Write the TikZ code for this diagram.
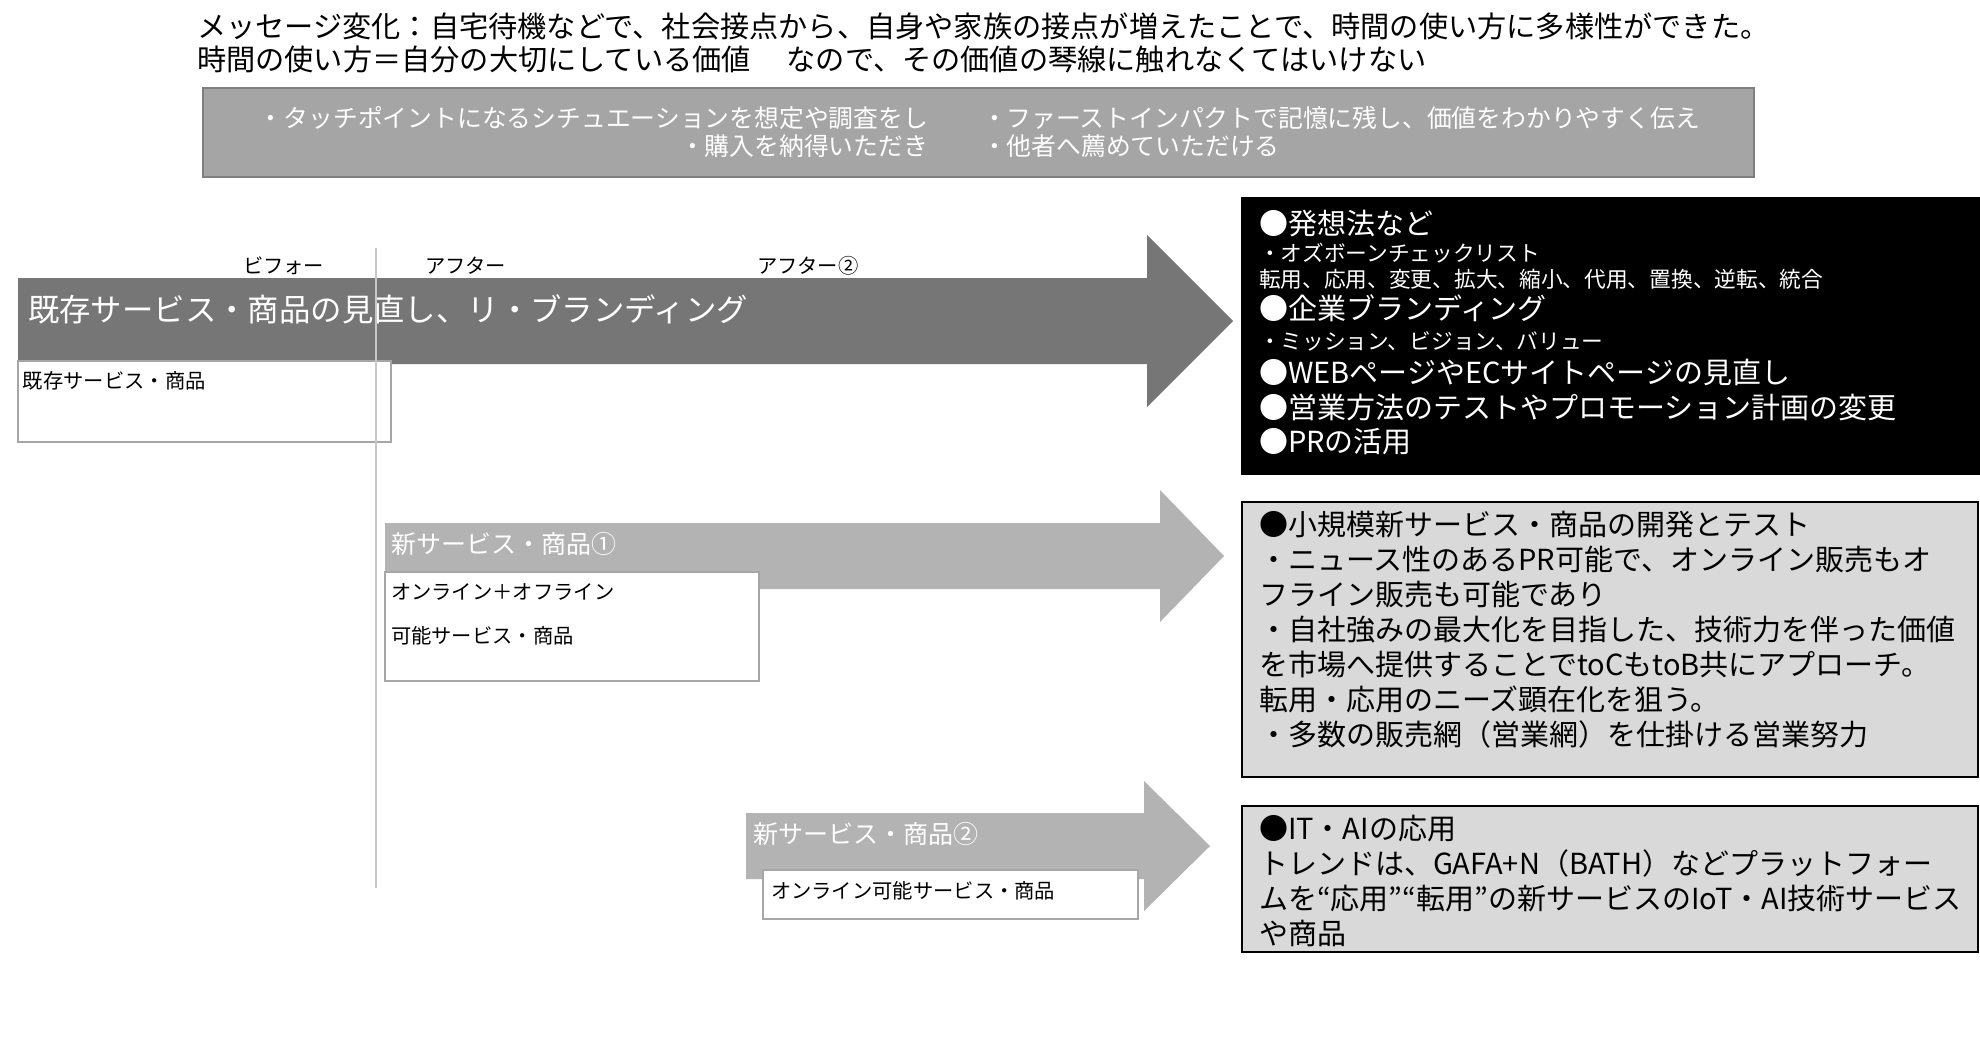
\documentclass[tikz,border=0pt]{standalone}
\usepackage{fontspec}
\setmainfont{Noto Sans CJK JP}
\definecolor{darkarrow}{HTML}{767676}
\definecolor{lightarrow}{HTML}{B3B3B3}
\definecolor{topfill}{HTML}{A5A5A5}
\definecolor{topline}{HTML}{7F7F7F}
\definecolor{panelgray}{HTML}{D9D9D9}
\definecolor{thinline}{HTML}{C8C8C8}
\definecolor{smallline}{HTML}{A6A6A6}
\begin{document}
\begin{tikzpicture}[x=1pt,y=-1pt,
  t/.style={anchor=base west,inner sep=0pt,outer sep=0pt},
  title/.style={t,font=\fontsize{29.2}{30}\selectfont},
  toptxt/.style={inner sep=0pt,outer sep=0pt,text=white,font=\fontsize{24.8}{26}\selectfont},
  big/.style={t,font=\fontsize{29}{30}\selectfont},
  small/.style={t,font=\fontsize{21.7}{22}\selectfont},
  lab/.style={t,font=\fontsize{20.3}{21}\selectfont},
  arrlab/.style={t,text=white,font=\fontsize{25}{26}\selectfont},
  rect/.style={anchor=north west,inner sep=0pt,outer sep=0pt},
  smallbox/.style={rect,fill=white,draw=smallline,line width=2pt},
  panel/.style={rect,fill=panelgray,draw=black,line width=2.5pt}]
\useasboundingbox[fill=white] (0,0) rectangle (1980,1063);

% title
\node[title] (t1) at (197,37.5) {メッセージ変化：自宅待機などで、社会接点から、自身や家族の接点が増えたことで、時間の使い方に多様性ができた。};
\node[title] (t2) at (197,70.5) {時間の使い方＝自分の大切にしている価値　 なので、その価値の琴線に触れなくてはいけない};

% top gray box
\node[rect,fill=topfill,draw=topline,line width=2pt,minimum width=1551pt,minimum height=89pt] (topbox) at (203,88) {};
\node[toptxt,anchor=base east] (tl1) at (928,127) {・タッチポイントになるシチュエーションを想定や調査をし};
\node[toptxt,anchor=base east] (tl2) at (928,155) {・購入を納得いただき};
\node[toptxt,anchor=base west] (tr1) at (982,127) {・ファーストインパクトで記憶に残し、価値をわかりやすく伝え};
\node[toptxt,anchor=base west] (tr2) at (982,155) {・他者へ薦めていただける};

% big dark arrow
\fill[darkarrow] (18,278) -- (1147,278) -- (1147,235) -- (1233,321) -- (1147,407) -- (1147,364) -- (18,364) -- cycle;
\node[t,text=white,font=\fontsize{31.4}{32}\selectfont] (a0) at (28,321) {既存サービス・商品の見直し、リ・ブランディング};
\node[lab] (before) at (243,273.5) {ビフォー};
\node[lab] (after1) at (425,273.5) {アフター};
\node[lab] (after2) at (757,273.5) {アフター②};

\node[smallbox,minimum width=373pt,minimum height=81pt] (b0) at (18,361) {};
\node[lab] (b0t) at (23,388.5) {既存サービス・商品};

% arrow 1
\fill[lightarrow] (385,523) -- (1160,523) -- (1160,490) -- (1224,556) -- (1160,622) -- (1160,589) -- (385,589) -- cycle;
\node[arrlab] (a1) at (391,553.5) {新サービス・商品①};
\node[smallbox,minimum width=374pt,minimum height=109pt] (b1) at (385,572) {};
\node[lab] (b1t1) at (391,599) {オンライン＋オフライン};
\node[lab] (b1t2) at (391,643) {可能サービス・商品};

% arrow 2
\fill[lightarrow] (746,813) -- (1144,813) -- (1144,781) -- (1210,846) -- (1144,911) -- (1144,879) -- (746,879) -- cycle;
\node[arrlab] (a2) at (753,843.5) {新サービス・商品②};
\node[smallbox,minimum width=375pt,minimum height=49pt] (b2) at (763,870) {};
\node[lab] (b2t) at (771,898) {オンライン可能サービス・商品};

% vertical line
\coordinate (vtop) at (376,248);
\coordinate (vbot) at (376,888);
\draw[thinline,line width=1.5pt] (vtop) -- (vbot);

% black panel
\node[rect,fill=black,minimum width=739pt,minimum height=278pt] (p0) at (1241,197) {};
\begin{scope}[every node/.append style={text=white}]
\node[big] (p0a) at (1259,234) {●発想法など};
\node[small] (p0b) at (1259,261) {・オズボーンチェックリスト};
\node[small] (p0c) at (1259,287) {転用、応用、変更、拡大、縮小、代用、置換、逆転、統合};
\node[big] (p0d) at (1259,319) {●企業ブランディング};
\node[small] (p0e) at (1259,349) {・ミッション、ビジョン、バリュー};
\node[big] (p0f) at (1259,383) {●WEBページやECサイトページの見直し};
\node[big] (p0g) at (1259,418) {●営業方法のテストやプロモーション計画の変更};
\node[big] (p0h) at (1259,452) {●PRの活用};
\end{scope}

% gray panel 1
\node[panel,minimum width=736pt,minimum height=275pt] (p1) at (1242,502) {};
\node[big] (p1a) at (1259,535.5) {●小規模新サービス・商品の開発とテスト};
\node[big] (p1b) at (1259,570.5) {・ニュース性のあるPR可能で、オンライン販売もオ};
\node[big] (p1c) at (1259,605.5) {フライン販売も可能であり};
\node[big] (p1d) at (1259,640.5) {・自社強みの最大化を目指した、技術力を伴った価値};
\node[big] (p1e) at (1259,675.5) {を市場へ提供することでtoCもtoB共にアプローチ。};
\node[big] (p1f) at (1259,710.5) {転用・応用のニーズ顕在化を狙う。};
\node[big] (p1g) at (1259,745.5) {・多数の販売網（営業網）を仕掛ける営業努力};

% gray panel 2
\node[panel,minimum width=736pt,minimum height=146pt] (p2) at (1242,806) {};
\node[big] (p2a) at (1259,839.5) {●IT・AIの応用};
\node[big] (p2b) at (1259,874.5) {トレンドは、GAFA+N（BATH）などプラットフォー};
\node[big] (p2c) at (1259,909.5) {ムを“応用”“転用”の新サービスのIoT・AI技術サービス};
\node[big] (p2d) at (1259,944.5) {や商品};
\end{tikzpicture}
\end{document}
